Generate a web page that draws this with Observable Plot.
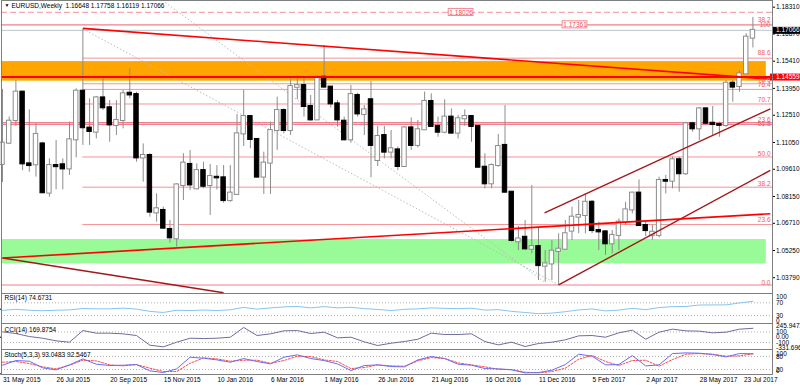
<!DOCTYPE html>
<html>
<head>
<meta charset="utf-8">
<script src="https://cdn.jsdelivr.net/npm/d3@7"></script>
<script src="https://cdn.jsdelivr.net/npm/@observablehq/plot@0.6"></script>
<style>
html,body{margin:0;padding:0;background:#fff;}
#chart{width:800px;height:386px;overflow:hidden;background:#fff;}
#chart svg{display:block;}
</style>
</head>
<body>
<div id="chart"></div>
<script>
const FONT = '"Liberation Sans",Arial,sans-serif';

// ---------- data ----------
const titleText = "EURUSD,Weekly  1.16648 1.17758 1.16119 1.17066";
const weekLabels = ["31 May 2015","26 Jul 2015","20 Sep 2015","15 Nov 2015","10 Jan 2016","6 Mar 2016","1 May 2016","26 Jun 2016","21 Aug 2016","16 Oct 2016","11 Dec 2016","5 Feb 2017","2 Apr 2017","28 May 2017","23 Jul 2017"];
const labelWeeks = [0,8,16,24,32,40,48,56,64,72,80,88,96,104,112];

const open = [1.0987,1.1101,1.1223,1.1375,1.0990,1.0985,1.1097,1.0833,1.0981,1.0985,1.0963,1.1119,1.1380,1.1182,1.1160,1.1344,1.1291,1.1196,1.1223,1.1369,
1.1362,1.1022,1.1035,1.0727,1.0740,1.0638,1.0588,1.0874,1.0987,1.0856,1.0954,1.0874,1.0918,1.0915,1.0793,1.0826,1.1151,1.1244,1.1121,1.0919,
1.0994,1.1169,1.1276,1.1169,1.1401,1.1410,1.1298,1.1226,1.1455,1.1402,1.1312,1.1219,1.1119,1.1357,1.1255,1.1334,1.1008,1.1142,1.1053,1.1065,
1.0976,1.1183,1.1089,1.1173,1.1325,1.1191,1.1160,1.1241,1.1155,1.1232,1.1244,1.1191,1.0972,1.0883,1.0981,1.1089,1.0838,1.0572,1.0596,1.0532,
1.0546,1.0441,1.0453,1.0520,1.0532,1.0629,1.0704,1.0713,1.0784,1.0632,1.0625,1.0561,1.0606,1.0677,1.0743,1.0833,1.0659,1.0605,1.0606,1.0901,
1.0897,1.1012,1.0937,1.1205,1.1178,1.1285,1.1208,1.1201,1.1196,1.1423,1.1405,1.1473,1.16648];
const high = [1.1390,1.1241,1.1437,1.1380,1.1280,1.1205,1.1106,1.1017,1.1115,1.1017,1.1214,1.1393,1.1714,1.1339,1.1352,1.1459,1.1330,1.1330,1.1384,1.1500,
1.1375,1.1097,1.1044,1.0829,1.0758,1.0686,1.0883,1.1044,1.1062,1.0990,1.0999,1.0987,1.0981,1.0981,1.0981,1.1255,1.1384,1.1250,1.1124,1.1053,
1.1214,1.1348,1.1285,1.1446,1.1464,1.1446,1.1357,1.1464,1.1625,1.1405,1.1330,1.1241,1.1411,1.1369,1.1303,1.1432,1.1191,1.1191,1.1169,1.1080,
1.1191,1.1237,1.1223,1.1375,1.1366,1.1241,1.1334,1.1285,1.1250,1.1280,1.1250,1.1196,1.1044,1.0990,1.1148,1.1303,1.0840,1.0654,1.0686,1.0874,
1.0650,1.0525,1.0579,1.0615,1.0686,1.0758,1.0793,1.0829,1.0793,1.0677,1.0632,1.0632,1.0695,1.0784,1.0838,1.0904,1.0686,1.0660,1.0919,1.0928,
1.1026,1.1026,1.1214,1.1214,1.1292,1.1292,1.1298,1.1214,1.1437,1.1437,1.1491,1.1688,1.17758];
const low = [1.0890,1.1094,1.1191,1.0954,1.0945,1.0919,1.0829,1.0811,1.0851,1.0851,1.0928,1.1022,1.1089,1.1089,1.1124,1.1276,1.1106,1.1142,1.1178,1.1339,
1.0999,1.0892,1.0704,1.0677,1.0641,1.0564,1.0543,1.0793,1.0847,1.0851,1.0856,1.0713,1.0850,1.0779,1.0784,1.0820,1.1083,1.1071,1.0915,1.0826,
1.0826,1.1062,1.1151,1.1142,1.1334,1.1241,1.1220,1.1223,1.1398,1.1290,1.1187,1.1115,1.1101,1.1241,1.1142,1.0915,1.0976,1.1017,1.1017,1.0954,
1.0972,1.1062,1.1076,1.1169,1.1187,1.1133,1.1151,1.1151,1.1124,1.1191,1.1106,1.0970,1.0856,1.0856,1.0972,1.0834,1.0570,1.0525,1.0525,1.0507,
1.0364,1.0355,1.0364,1.0340,1.0525,1.0579,1.0615,1.0615,1.0615,1.0525,1.0498,1.0507,1.0525,1.0659,1.0722,1.0654,1.0600,1.0580,1.0593,1.0829,
1.0856,1.0838,1.0928,1.1160,1.1115,1.1196,1.1142,1.1133,1.1187,1.1321,1.1375,1.1470,1.16119];
const close = [1.1101,1.1219,1.1375,1.0990,1.0981,1.1148,1.0835,1.0981,1.0975,1.0963,1.1119,1.1380,1.1184,1.1164,1.1344,1.1291,1.1199,1.1223,1.1366,1.1360,
1.1022,1.1035,1.0731,1.0749,1.0645,1.0593,1.0877,1.0994,1.0877,1.0954,1.0870,1.0922,1.0915,1.0793,1.0833,1.1151,1.1244,1.1121,1.0919,1.0994,
1.1169,1.1276,1.1169,1.1405,1.1410,1.1298,1.1226,1.1455,1.1402,1.1312,1.1226,1.1119,1.1362,1.1258,1.1280,1.1089,1.1137,1.1053,1.1071,1.0976,
1.1183,1.1089,1.1173,1.1325,1.1191,1.1160,1.1241,1.1155,1.1232,1.1244,1.1191,1.0972,1.0883,1.0981,1.1083,1.0838,1.0579,1.0587,1.0534,1.0546,
1.0444,1.0453,1.0521,1.0532,1.0615,1.0704,1.0713,1.0784,1.0632,1.0625,1.0561,1.0606,1.0677,1.0743,1.0833,1.0659,1.0632,1.0623,1.0901,1.0897,
1.1012,1.0937,1.1205,1.1178,1.1285,1.1208,1.1201,1.1197,1.1423,1.1402,1.1473,1.1670,1.17066];

const priceTicks = [1.18310,1.16870,1.15410,1.13950,1.12510,1.11050,1.09610,1.08150,1.06710,1.05250,1.03790];
const keyLevel = 1.14559;
const alertLevel = 1.18026;
const fullLevels = [1.17361, 1.1211, 1.1202, 1.0340];
const fibStartWeek = 12;
const fibLevels = [1.15574, 1.14200, 1.13897, 1.13114, 1.10270, 1.08649, 1.06643];
const fibLabelText = ["38.2","100","88.6","78.6","76.4","70.7","23.6","61.8","50.0","38.2","23.6","0.0"];
const fibLabelPrice = [1.17648,1.17380,1.15877,1.14428,1.14143,1.13354,1.12254,1.12066,1.10456,1.08830,1.06877,1.03533];
const priceTagWeeks = [68.45, 85.45];
const priceTagValues = [1.18026, 1.17361];
const orangeZone = [1.1434, 1.1539];
const greenZone = [1.0454, 1.0584];
const zoneEndWeek = 114;

const redTrends = [
  {w1: 12, p1: 1.1717, w2: 114.925, p2: 1.1444},
  {w1: 0, p1: 1.0485, w2: 114.6, p2: 1.0722}
];
const darkTrends = [
  {w1: 0, p1: 1.0485, w2: 33, p2: 1.0298},
  {w1: 83, p1: 1.0340, w2: 114.6, p2: 1.0955},
  {w1: 80.9, p1: 1.0727, w2: 114.6, p2: 1.1285}
];
const dottedTrends = [
  {w1: 12, p1: 1.1714, w2: 83, p2: 1.0340},
  {w1: 24.3, p1: 1.1856, w2: 81, p2: 1.0353}
];

const indWeeks = [0,2,4,6,8,10,12,14,16,18,20,22,24,26,28,30,32,34,36,38,40,42,44,46,48,50,52,54,56,58,
60,62,64,66,68,70,72,74,76,78,80,82,84,86,88,90,92,94,96,98,100,102,104,106,108,110,112];
const rsiValues = [46,49.5,46.5,45,46.5,47.5,52,51,51,53.3,50,43,39.5,46.5,45.7,47.2,45.7,47.8,55.5,50,54,57,58.6,54,58,54,56,51.7,49,45.7,
49.5,51,54,52.5,51.5,53,47,48.5,43,39.5,35.8,37.5,42,47.5,50.5,44.5,47,52.5,48.5,55,57.8,58.5,63,63.3,63.5,69.5,74.67];
const cciValues = [102,70,13,-19,-69,-95,127,77,77,64,32,-152,-184,-95,-19,-25,-19,0,185,32,64,121,127,70,96,-12,0,-88,-158,-114,
-82,-38,77,51,51,64,-82,-146,-95,-177,-120,-95,-50,26,32,0,83,134,-38,96,153,121,115,83,96,153,169.88];
const stochMain = [40,61.5,58.5,27.7,18.5,41.5,69,44.6,38.5,40,43,13.8,6.2,23,77,72.3,64.6,53.8,70.8,57,46,77,87.7,70.8,61.5,46,15.4,38.5,41.5,33.8,
32.3,64.6,80,70.8,44.6,40,24.6,23,18.5,4.6,6.2,17,43,90.8,81.5,41.5,43,84.6,36.9,41.5,93.8,96.9,95.4,89.2,78.5,93.8,93.05];
const stochSignal = [53.8,57,47.7,32.3,23,40,63,60,41.5,37,43,26.2,10.8,10.8,49,73.8,69.2,58.5,63,63,49,61.5,81.5,80,64.6,57,24.6,29.2,41.5,37,
35.4,60,75.4,70.8,50.8,41.5,32.3,21.5,20,7.7,4.6,10.8,26.2,67.7,84.6,57,38.5,61.5,63,35.4,66.2,90.8,93.8,90.8,81.5,83,92.55];

const rsiTitle = "RSI(14) 74.6731";
const cciTitle = "CCI(14) 169.8754";
const stochTitle = "Stoch(5,3,3) 93.0483 92.5467";
const rsiLevels = [70, 30];
const cciLevels = [100, 0, -100];
const cciLevelText = ["100", "0.00", "-100"];
const cciTop = "245.9472", cciBottom = "-331.6961";
const stochLevels = [80, 20];

// ---------- drawing ----------
const xDom = [-0.149, 114.925];
const xRight = 119.2;
const fmt5 = d3.format(".5f");
const frameColor = "#7f7f7f";

function panel(height, marginBottom, yDom, marks) {
  return Plot.plot({
    width: 800, height, marginLeft: 1, marginRight: 28, marginTop: 0, marginBottom,
    x: {domain: xDom, axis: null},
    y: {domain: yDom, label: null},
    style: {fontFamily: FONT, fontSize: "6.5px", background: "transparent", overflow: "visible", color: "black"},
    marks
  });
}

const candles = open.map((o, i) => ({i, o, h: high[i], l: low[i], c: close[i]}));
const fibLabels = fibLabelText.map((t, k) => ({t, p: fibLabelPrice[k]}));
const tags = priceTagWeeks.map((w, k) => ({w, p: priceTagValues[k]}));
const bid = close[close.length - 1];

const main = panel(293, 0, [1.02943, 1.18668], [
  Plot.rect([{lo: orangeZone[0], hi: orangeZone[1]}], {x1: xDom[0], x2: zoneEndWeek, y1: "lo", y2: "hi", fill: "#ffa500"}),
  Plot.rect([{lo: greenZone[0], hi: greenZone[1]}], {x1: xDom[0], x2: zoneEndWeek, y1: "lo", y2: "hi", fill: "#98fb98"}),
  Plot.link(dottedTrends, {x1: "w1", y1: "p1", x2: "w2", y2: "p2", stroke: "#bdbdbd", strokeDasharray: "1.5,2", clip: true}),
  Plot.ruleY([alertLevel], {stroke: "#f6a9b2", strokeDasharray: "6,3", strokeWidth: 1.3}),
  Plot.ruleY(fullLevels, {stroke: "#ee8090", strokeWidth: 1.2}),
  Plot.ruleY([bid], {stroke: "#b9c9cd"}),
  Plot.ruleY(fibLevels, {x1: fibStartWeek, x2: xDom[1], stroke: "#f59297"}),
  Plot.ruleX(candles, {x: "i", y1: "l", y2: "h", stroke: "#8c8c8c"}),
  Plot.rect(candles, {
    x1: d => d.i - 0.33, x2: d => d.i + 0.33,
    y1: d => Math.min(d.o, d.c), y2: d => Math.max(d.o, d.c),
    fill: d => d.c >= d.o ? "white" : "black",
    stroke: d => d.c >= d.o ? "#8c8c8c" : "black",
    insetTop: -0.5, insetBottom: -0.5
  }),
  Plot.link(darkTrends, {x1: "w1", y1: "p1", x2: "w2", y2: "p2", stroke: "#a31818", strokeWidth: 1.4, clip: true}),
  Plot.link(redTrends, {x1: "w1", y1: "p1", x2: "w2", y2: "p2", stroke: "#ff0000", strokeWidth: 1.6, clip: true}),
  Plot.text(fibLabels, {x: xDom[1], y: "p", text: "t", textAnchor: "end", dx: -2, fill: "#f25b5b"}),
  Plot.ruleY([keyLevel], {stroke: "#ff0000", strokeWidth: 2}),
  Plot.rect(tags, {x1: d => d.w - 1.85, x2: d => d.w + 1.85, y1: d => d.p - 0.0019, y2: d => d.p + 0.0019, fill: "white", stroke: "#f08a96"}),
  Plot.text(tags, {x: "w", y: "p", text: d => fmt5(d.p), fill: "#f04a5a"}),
  Plot.axisY(priceTicks, {anchor: "right", tickSize: 2, tickPadding: 1.5, tickFormat: fmt5, label: null}),
  Plot.ruleY([bid], {x1: xDom[1], x2: xRight, stroke: "black", strokeWidth: 7}),
  Plot.text([bid], {x: xDom[1], y: d => d, text: fmt5, dx: 3.5, textAnchor: "start", fill: "white"}),
  Plot.ruleY([keyLevel], {x1: xDom[1] - 0.3, x2: xRight, stroke: "#ff0000", strokeWidth: 7}),
  Plot.text([keyLevel], {x: xDom[1], y: d => d, text: fmt5, dx: 3.5, textAnchor: "start", fill: "white"}),
  Plot.text(["\u25BC"], {frameAnchor: "top-left", dx: 3, dy: 3, lineAnchor: "top", text: d => d, fontSize: 5}),
  Plot.text([titleText], {frameAnchor: "top-left", dx: 10, dy: 2.5, lineAnchor: "top", text: d => d}),
  Plot.frame({stroke: frameColor})
]);

const rows = indWeeks.map((w, k) => ({w, rsi: rsiValues[k], cci: cciValues[k], sm: stochMain[k], ss: stochSignal[k]}));

const rsiPanel = panel(30, 0, [4.8, 99.3], [
  Plot.ruleY(rsiLevels, {stroke: "#b0b0b0", strokeDasharray: "1,2"}),
  Plot.line(rows, {x: "w", y: "rsi", stroke: "#86c4f0", strokeWidth: 1}),
  Plot.text([rsiTitle], {frameAnchor: "top-left", dx: 3, dy: 2, lineAnchor: "top", text: d => d}),
  Plot.text(rsiLevels, {x: xDom[1], y: d => d, text: d => String(d), dx: 3.5, textAnchor: "start"}),
  Plot.text(["100"], {frameAnchor: "top-right", dx: 3.5, dy: 0.5, lineAnchor: "top", textAnchor: "start", text: d => d}),
  Plot.text(["0"], {frameAnchor: "bottom-right", dx: 3.5, dy: -1, lineAnchor: "bottom", textAnchor: "start", text: d => d}),
  Plot.frame({stroke: frameColor})
]);

const cciPanel = panel(26, 0, [-234, 261], [
  Plot.ruleY([100, -100], {stroke: "#b0b0b0", strokeDasharray: "1,2"}),
  Plot.line(rows, {x: "w", y: "cci", stroke: "#6e6e9e", strokeWidth: 1}),
  Plot.text([cciTitle], {frameAnchor: "top-left", dx: 3, dy: 3.5, lineAnchor: "top", text: d => d}),
  Plot.text(cciLevels, {x: xDom[1], y: d => d, text: (d, k) => cciLevelText[k], dx: 3.5, textAnchor: "start"}),
  Plot.text([cciTop], {frameAnchor: "top-right", dx: 3.5, dy: 0, lineAnchor: "top", textAnchor: "start", text: d => d}),
  Plot.text([cciBottom], {frameAnchor: "bottom-right", dx: 3.5, dy: 0, lineAnchor: "bottom", textAnchor: "start", text: d => d}),
  Plot.frame({stroke: frameColor})
]);

const dateRows = labelWeeks.map((w, k) => ({w, label: weekLabels[k]}));
const stochPanel = panel(37, 12, [-2.9, 112.5], [
  Plot.ruleY(stochLevels, {stroke: "#b0b0b0", strokeDasharray: "1,2"}),
  Plot.line(rows, {x: "w", y: "ss", stroke: "#ff4a4a", strokeWidth: 1, strokeDasharray: "2,1.5"}),
  Plot.line(rows, {x: "w", y: "sm", stroke: "#6b6bf5", strokeWidth: 1}),
  Plot.text([stochTitle], {frameAnchor: "top-left", dx: 3, dy: 2.5, lineAnchor: "top", text: d => d}),
  Plot.text(stochLevels, {x: xDom[1], y: d => d, text: d => String(d), dx: 3.5, textAnchor: "start"}),
  Plot.text(["100"], {frameAnchor: "top-right", dx: 3.5, dy: 2, lineAnchor: "top", textAnchor: "start", text: d => d}),
  Plot.text(["0"], {frameAnchor: "bottom-right", dx: 3.5, dy: -2, lineAnchor: "bottom", textAnchor: "start", text: d => d}),
  Plot.frame({stroke: frameColor}),
  Plot.text(dateRows.slice(0, -1), {x: "w", text: "label", frameAnchor: "bottom", lineAnchor: "top", textAnchor: "start", dy: 2.5, dx: 0.5}),
  Plot.text(dateRows.slice(-1), {x: "w", text: "label", frameAnchor: "bottom", lineAnchor: "top", textAnchor: "start", dy: 2.5, dx: -9})
]);

const root = document.getElementById("chart");
[main, rsiPanel, cciPanel, stochPanel].forEach(el => root.appendChild(el));
</script>
</body>
</html>
